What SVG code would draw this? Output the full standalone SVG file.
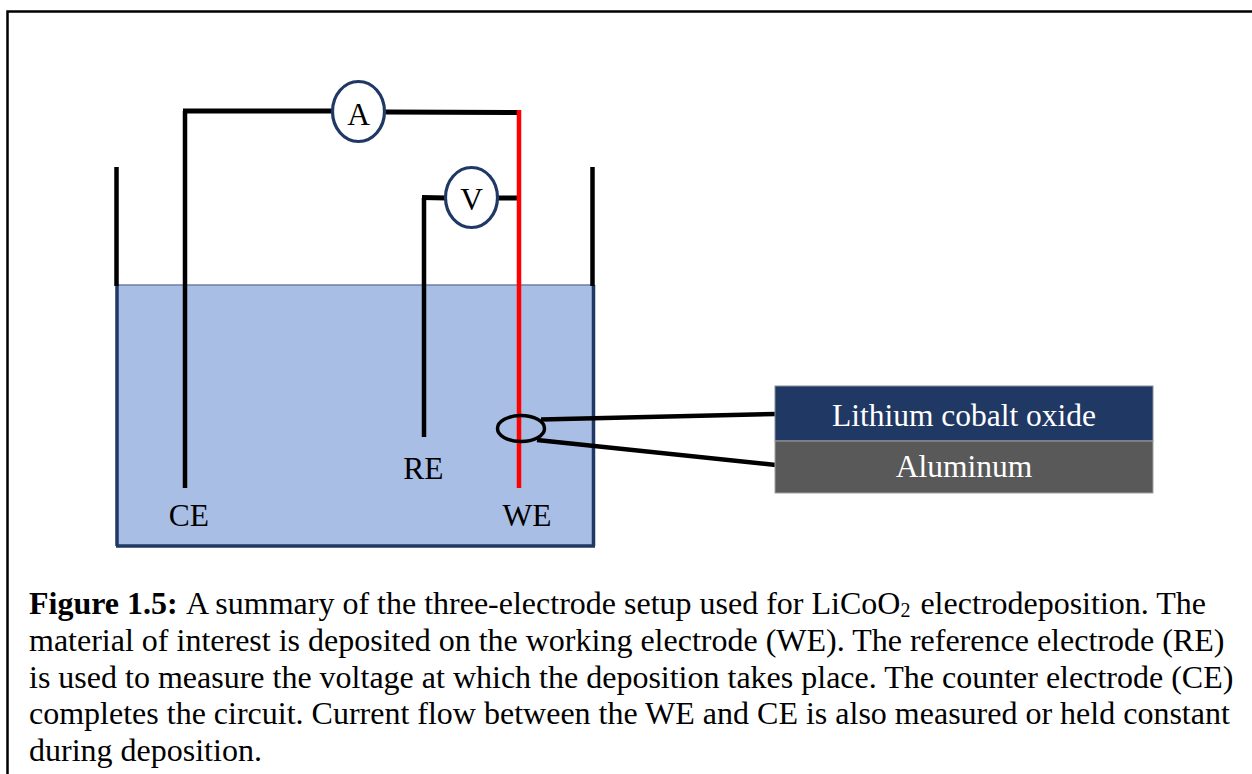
<svg xmlns="http://www.w3.org/2000/svg" width="1252" height="774" viewBox="0 0 1252 774">
<style>
text{font-family:"Liberation Serif","Times New Roman",serif;fill:#000}
.lab{font-size:31.500px;text-anchor:middle}
.cap{font-size:32px}
.w{fill:none;stroke:#000;stroke-width:4.500}
.h{fill:none;stroke:#000;stroke-width:5}
.m{fill:#fff;stroke:#1f3864;stroke-width:3.200}
</style>
<rect x="0" y="0" width="1252" height="774" fill="#fff"/>
<path d="M7.500 774V11.500H1252" fill="none" stroke="#000" stroke-width="2.500"/>
<g id="tank">
<rect x="117" y="285" width="476" height="260" fill="#a9bee5"/>
<path d="M117 285H593" stroke="#6d7fa3" stroke-width="1.500" fill="none"/>
<path d="M117 285V546M593.500 285V546" stroke="#1f3864" stroke-width="3.500" fill="none"/>
<path d="M116 546H595" stroke="#1f3864" stroke-width="3.500" fill="none"/>
<path d="M116.500 167V286M592.500 167V286" class="w"/>
</g>
<g id="connectors">
<path d="M185 488V111" class="w"/>
<path d="M183 111H333M386 112L519 112.500" class="h"/>
<path d="M424 437V198" class="w"/>
<path d="M422 197.500L447 198M494 198H519" class="h"/>
<path d="M519 110V488" fill="none" stroke="#f00" stroke-width="4.500"/>
<path d="M541 419.500L776 414M537 440L776 465" class="w"/>
</g>
<g id="ammeter"><ellipse cx="358.500" cy="111.500" rx="26" ry="30" class="m"/><text x="358.500" y="124.500" class="lab">A</text></g>
<g id="voltmeter"><ellipse cx="471.500" cy="197.500" rx="26" ry="30" class="m"/><text x="471.500" y="209.500" class="lab">V</text></g>
<g id="zoom-ring"><ellipse cx="521" cy="428.500" rx="23.500" ry="13" fill="none" stroke="#000" stroke-width="3.500"/></g>
<g id="ce"><text x="189" y="525.500" class="lab">CE</text></g>
<g id="re"><text x="423.500" y="478.500" class="lab">RE</text></g>
<g id="we"><text x="527" y="525.500" class="lab">WE</text></g>
<g id="lco"><rect x="775" y="386" width="378" height="55" fill="#1f3864" stroke="#8a8f99"/><text x="964" y="425.500" class="lab" style="fill:#fff">Lithium cobalt oxide</text></g>
<g id="al"><rect x="775" y="441" width="378" height="52" fill="#595959" stroke="#a0a0a0"/><text x="964" y="476.500" class="lab" style="fill:#fff">Aluminum</text></g>
<g id="caption">
<text x="29" y="613.500" class="cap"><tspan font-weight="bold">Figure 1.5:</tspan><tspan dx="2"> A summary of the three-electrode setup used for LiCoO</tspan><tspan font-size="20" dy="3">2</tspan><tspan dy="-3" dx="2"> electrodeposition. The</tspan></text>
<text x="29" y="650.500" class="cap">material of interest is deposited on the working electrode (WE). The reference electrode (RE)</text>
<text x="29" y="687.500" class="cap">is used to measure the voltage at which the deposition takes place. The counter electrode (CE)</text>
<text x="29" y="723.500" class="cap">completes the circuit. Current flow between the WE and CE is also measured or held constant</text>
<text x="29" y="760.500" class="cap">during deposition.</text>
</g>
</svg>
